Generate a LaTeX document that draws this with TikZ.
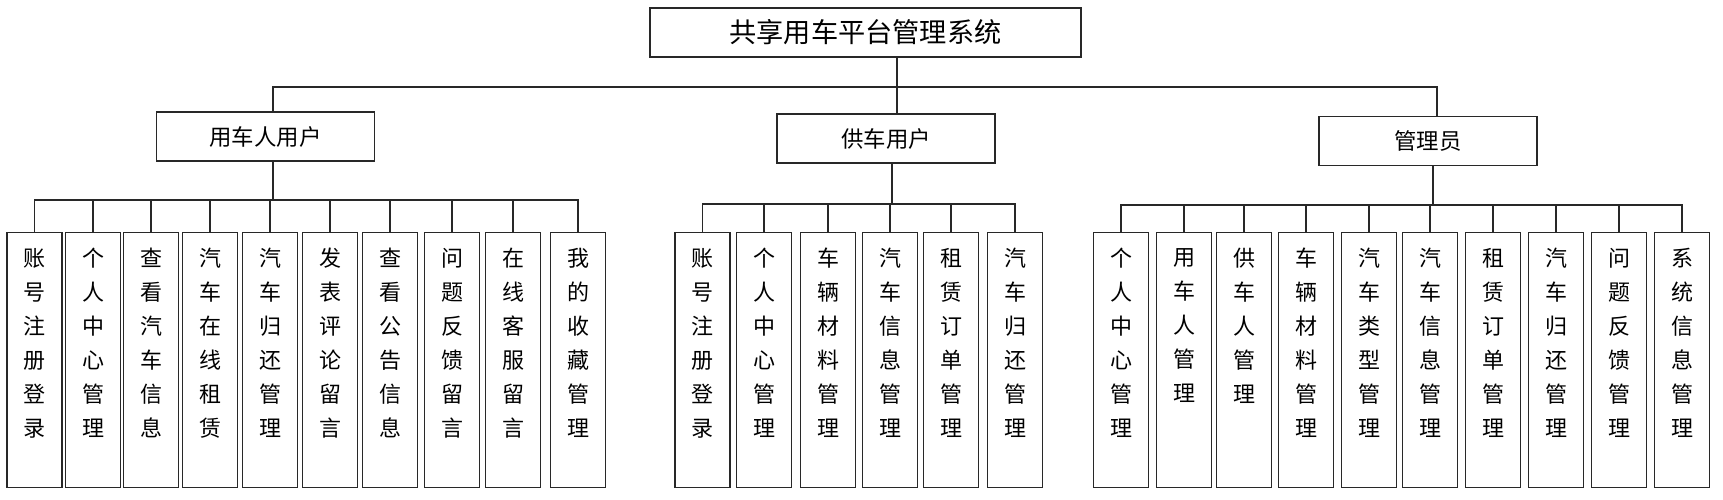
\documentclass[tikz,border=0pt]{standalone}
\usepackage{fontspec}
\setmainfont{Noto Sans CJK SC}
\usetikzlibrary{positioning}
\definecolor{ll}{RGB}{40, 40, 40}
\def\leafw{27.5pt}
\def\leafh{127.5pt}
\tikzset{
	topbox/.style={draw=ll,line width=0.8pt,rectangle,minimum width=215.5pt,minimum height=24.5pt,font=\fontsize{13.6pt}{16pt}\selectfont},
	rolebox/.style={draw=ll,line width=0.8pt,rectangle,minimum width=109pt,minimum height=24.5pt,font=\fontsize{11.2pt}{14pt}\selectfont},
	leafbox/.style={draw=ll,line width=0.8pt,rectangle,minimum width=\leafw,minimum height=\leafh,inner sep=0pt},
	leaftext/.style={anchor=north,align=center,inner sep=0pt,font=\fontsize{11pt}{17pt}\selectfont},
	conn/.style={draw=ll,line width=0.7pt}
}
\newcommand{\leafnode}[3]{\node[leafbox] (#2) at (#1,360) {};
	\node[leaftext] at ([yshift=-8pt]#2.north) {#3}; }

\begin{document}
\begin{tikzpicture}[x=0.5pt,y=-0.5pt]
\useasboundingbox (0,0) rectangle (1723,499);

\node[topbox] (sys) at (865.5,32.5) {共享用车平台管理系统};
\node[rolebox] (renter) at (265.5,136.5) {用车人用户};
\node[rolebox] (owner) at (886,138.5) {供车用户};
\node[rolebox] (admin) at (1428,141) {管理员};

% 用车人用户
\leafnode{34.5}{a1}{账\\号\\注\\册\\登\\录}
\leafnode{93}{a2}{个\\人\\中\\心\\管\\理}
\leafnode{151}{a3}{查\\看\\汽\\车\\信\\息}
\leafnode{210}{a4}{汽\\车\\在\\线\\租\\赁}
\leafnode{270}{a5}{汽\\车\\归\\还\\管\\理}
\leafnode{330}{a6}{发\\表\\评\\论\\留\\言}
\leafnode{390}{a7}{查\\看\\公\\告\\信\\息}
\leafnode{452}{a8}{问\\题\\反\\馈\\留\\言}
\leafnode{513}{a9}{在\\线\\客\\服\\留\\言}
\leafnode{578}{a10}{我\\的\\收\\藏\\管\\理}

% 供车用户
\leafnode{702.5}{b1}{账\\号\\注\\册\\登\\录}
\leafnode{764}{b2}{个\\人\\中\\心\\管\\理}
\leafnode{828}{b3}{车\\辆\\材\\料\\管\\理}
\leafnode{890}{b4}{汽\\车\\信\\息\\管\\理}
\leafnode{951}{b5}{租\\赁\\订\\单\\管\\理}
\leafnode{1015}{b6}{汽\\车\\归\\还\\管\\理}

% 管理员
\leafnode{1121}{c1}{个\\人\\中\\心\\管\\理}
\leafnode{1184}{c2}{用\\车\\人\\管\\理}
\leafnode{1244}{c3}{供\\车\\人\\管\\理}
\leafnode{1306}{c4}{车\\辆\\材\\料\\管\\理}
\leafnode{1369}{c5}{汽\\车\\类\\型\\管\\理}
\leafnode{1430}{c6}{汽\\车\\信\\息\\管\\理}
\leafnode{1493}{c7}{租\\赁\\订\\单\\管\\理}
\leafnode{1556}{c8}{汽\\车\\归\\还\\管\\理}
\leafnode{1619}{c9}{问\\题\\反\\馈\\管\\理}
\leafnode{1682}{c10}{系\\统\\信\\息\\管\\理}

\coordinate (trunk) at (897,87);
\coordinate (busA) at (273,200);
\coordinate (busB) at (892,204);
\coordinate (busC) at (1433,205);

\draw[conn] (sys.south -| trunk) -- (trunk);
\draw[conn] (trunk) -| (renter.north -| busA);
\draw[conn] (trunk) -- (owner.north -| trunk);
\draw[conn] (trunk) -| ([xshift=4.5pt]admin.north);

\draw[conn] (renter.south -| busA) -- (busA);
\draw[conn] (owner.south -| busB) -- (busB);
\draw[conn] (admin.south -| busC) -- (busC);
\foreach \n in {a1,a2,a3,a4,a5,a6,a7,a8,a9,a10}
	\draw[conn] (busA) -| (\n.north);
\foreach \n in {b1,b2,b3,b4,b5,b6}
	\draw[conn] (busB) -| (\n.north);
\foreach \n in {c1,c2,c3,c4,c5,c6,c7,c8,c9,c10}
	\draw[conn] (busC) -| (\n.north);
\end{tikzpicture}
\end{document}
